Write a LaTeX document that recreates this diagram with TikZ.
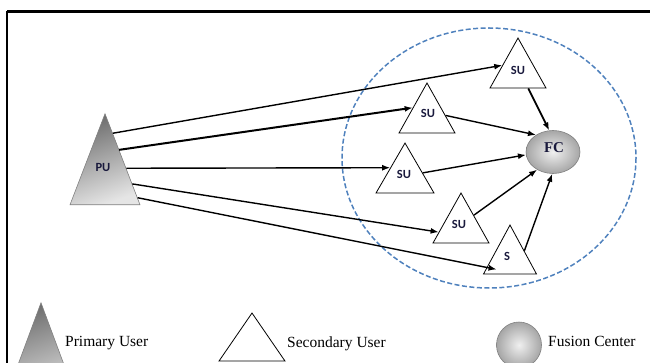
\documentclass[tikz,border=0pt]{standalone}
\usepackage{fontspec}
\setmainfont{Liberation Serif}
\newfontfamily\labelfont{Carlito}
\usetikzlibrary{shapes.geometric,arrows.meta,calc}
\definecolor{dashblue}{RGB}{79,129,189}
\definecolor{navy}{RGB}{25,25,60}
\begin{document}
\begin{tikzpicture}[x=1pt,y=-1pt,
  tri/.style={isosceles triangle, shape border rotate=90, isosceles triangle stretches,
    inner sep=0pt, draw=black, line width=0.8pt, minimum width=56pt, minimum height=50pt, anchor=apex},
  putri/.style={isosceles triangle, shape border rotate=90, isosceles triangle stretches,
    inner sep=0pt, draw=gray, line width=0.6pt, left color=gray!85!black, right color=gray!20,
    shading angle=20, anchor=apex},
  sulabel/.style={font=\labelfont\bfseries\fontsize{12.5}{12.5}\selectfont, text=navy, inner sep=0pt},
  ball/.style={ellipse, inner color=gray!12, outer color=gray!70, draw=gray, line width=0.6pt, inner sep=0pt},
  arr/.style={-{Latex[length=8pt,width=6pt]}, line width=1.4pt},
  legend/.style={font=\fontsize{15.5}{16}\selectfont, anchor=base west, inner sep=0pt},
]
\useasboundingbox (0,0) rectangle (650,363);
% frame
\draw[line width=2.5pt] (7,11.5) -- (652,11.5);
\draw[line width=2pt] (7,11.5) -- (7,365);
% dashed ellipse
\draw[dashblue, line width=1.5pt, dash pattern=on 5pt off 2.5pt] (489,158) ellipse [x radius=147, y radius=130];
% PU
\node[putri, minimum width=70pt, minimum height=91pt] (PU) at (105,113) {};
\node[sulabel] (PUl) at (103,167) {PU};
% SUs
\node[tri] (SU1) at (518,37) {};
\node[sulabel] (SU1l) at (518,70) {SU};
\node[tri] (SU2) at (427,82) {};
\node[sulabel] (SU2l) at (428,113) {SU};
\node[tri, minimum width=58pt] (SU3) at (405,142) {};
\node[sulabel] (SU3l) at (404,174) {SU};
\node[tri] (SU4) at (461,192) {};
\node[sulabel] (SU4l) at (459,224) {SU};
\node[tri, minimum width=53pt, minimum height=49pt] (S) at (510,224) {};
\node[sulabel] (Sl) at (507,256) {S};
% FC
\node[ball, minimum width=54pt, minimum height=43pt] (FC) at (553,152) {};
\node[font=\bfseries\fontsize{15}{15}\selectfont, text=navy, inner sep=0pt] (FCl) at (554,148) {FC};
% arrows from PU
\draw[arr] ($(PU.apex)!.22!(PU.right corner)$) -- ($(SU1.apex)!.55!(SU1.left corner)$);
\draw[arr, line width=2pt] ($(PU.apex)!.40!(PU.right corner)$) -- ($(SU2.apex)!.5!(SU2.left corner)$);
\draw[arr] ($(PU.apex)!.60!(PU.right corner)$) -- ($(SU3.apex)!.5!(SU3.left corner)$);
\draw[arr] ($(PU.apex)!.77!(PU.right corner)$) -- ($(SU4.apex)!.78!(SU4.left corner)$);
\draw[arr] ($(PU.apex)!.92!(PU.right corner)$) -- ($($(S.apex)!.9!(S.left corner)$)+(11,0)$);
% arrows to FC
\draw[arr, line width=1.8pt] ($(SU1.left corner)!.68!(SU1.right corner)$) -- (FC.100);
\draw[arr] ($(SU2.apex)!.65!(SU2.right corner)$) -- (FC.135);
\draw[arr] ($(SU3.apex)!.6!(SU3.right corner)$) -- (FC.186);
\draw[arr] ($(SU4.apex)!.45!(SU4.right corner)$) -- (FC.228);
\draw[arr] ($(S.apex)!.53!(S.right corner)$) -- (FC.268);
% legend
\node[putri, minimum width=75pt, minimum height=101pt] (LPU) at (41,302) {};
\node[legend] (LPUt) at (65,346) {Primary User};
\node[tri, minimum width=66pt, minimum height=48pt] (LSU) at (252,312) {};
\node[legend] (LSUt) at (287,347) {Secondary User};
\node[ball, minimum width=45pt, minimum height=46pt] (LFC) at (519,345) {};
\node[legend] (LFCt) at (548,346) {Fusion Center};
\end{tikzpicture}
\end{document}
